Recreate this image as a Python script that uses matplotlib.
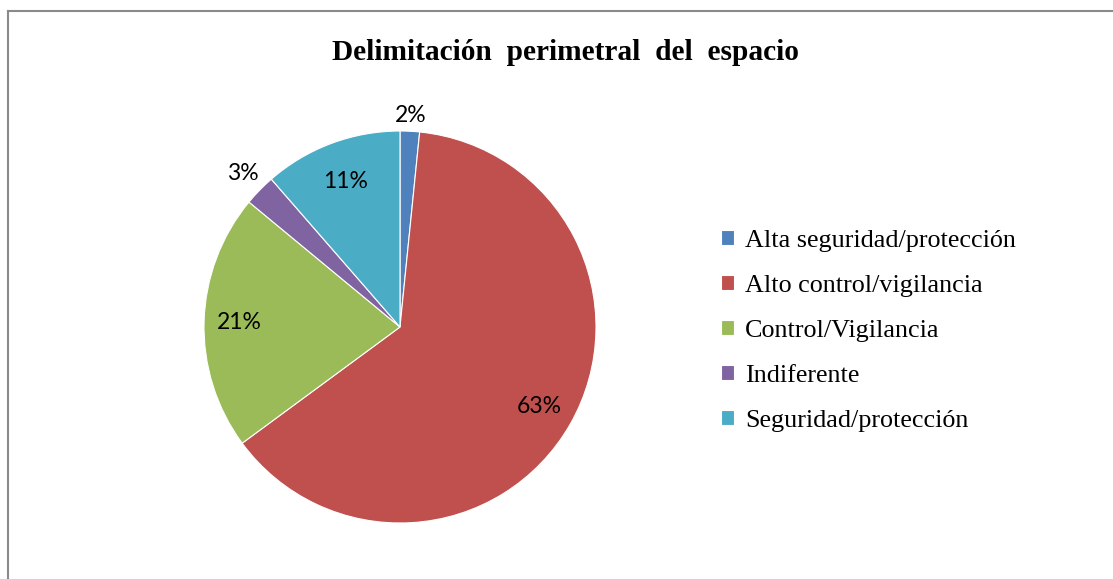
import numpy as np
import matplotlib.pyplot as plt
from matplotlib.lines import Line2D

# Datos del gráfico
categorias = ["Alta seguridad/protección", "Alto control/vigilancia",
              "Control/Vigilancia", "Indiferente", "Seguridad/protección"]
valores = [1.6, 63.3, 21.1, 2.6, 11.4]
colores = ["#4F81BD", "#C0504D", "#9BBB59", "#8064A2", "#4BACC6"]
# distancia de cada etiqueta al centro (en radios)
radio_etiqueta = [1.08, 0.82, 0.82, 1.12, 0.79]

W, H = 1113, 579
fig = plt.figure(figsize=(W / 100, H / 100), dpi=100)

# Marco gris del gráfico
fig.add_artist(Line2D([8 / W, 8 / W], [0, 1 - 11 / H], color="#8a8a8a", lw=1.5))
fig.add_artist(Line2D([8 / W, 1], [1 - 11 / H, 1 - 11 / H], color="#8a8a8a", lw=1.5))

# Ejes de la torta: centro (400, 327), radio 196 px
cx, cy, r = 400, 327, 196
ax = fig.add_axes([(cx - r) / W, (H - cy - r) / H, 2 * r / W, 2 * r / H])
wedges, _ = ax.pie(valores, colors=colores, startangle=90, counterclock=False,
                   wedgeprops=dict(edgecolor="white", linewidth=0.8))
ax.set_xlim(-1, 1)
ax.set_ylim(-1, 1)
ax.axis("off")

for w, v, rl in zip(wedges, valores, radio_etiqueta):
    ang = np.deg2rad((w.theta1 + w.theta2) / 2)
    ax.text(rl * np.cos(ang), rl * np.sin(ang), f"{round(v):d}%",
            ha="center", va="center", fontsize=16.5, family="Lato", clip_on=False)

fig.text(565 / W, 1 - 52 / H, "Delimitación  perimetral  del  espacio",
         ha="center", va="center", fontsize=21.2, fontweight="bold",
         family="Liberation Serif")

fig.legend(wedges, categorias, loc="upper left", bbox_to_anchor=(708 / W, 1 - 217 / H),
           frameon=False, prop=dict(family="Liberation Serif", size=18.8),
           handlelength=0.5, handleheight=0.5, handletextpad=0.42,
           labelspacing=0.88, borderpad=0)

fig.savefig("out.png", dpi=100)
